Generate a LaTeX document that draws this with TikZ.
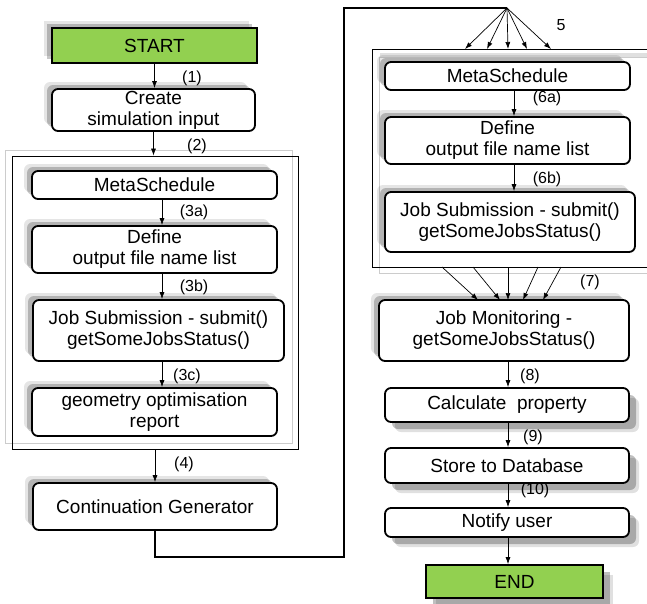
\documentclass[tikz,border=0pt]{standalone}
\usepackage{fontspec}
\setmainfont{Liberation Sans}
\usetikzlibrary{arrows.meta,shadows}
\definecolor{termgreen}{HTML}{92D050}
\begin{document}
\begin{tikzpicture}[x=1pt,y=-1pt,
  box/.style={draw=black, line width=1.8pt, rounded corners=6pt, fill=white,
    inner sep=0pt, align=center, font=\fontsize{19}{21}\selectfont},
  term/.style={draw=black, line width=1.8pt, fill=termgreen,
    inner sep=0pt, align=center, font=\fontsize{19}{21}\selectfont},
  shUL/.style={drop shadow={shadow xshift=-8pt, shadow yshift=7pt, fill=black, opacity=0.10},
               drop shadow={shadow xshift=-5pt, shadow yshift=4pt, fill=black, opacity=0.22}},
  shDR/.style={drop shadow={shadow xshift=10pt, shadow yshift=-10pt, fill=black, opacity=0.12},
               drop shadow={shadow xshift=7pt, shadow yshift=-7pt, fill=black, opacity=0.25}},
  frame/.style={draw=black, line width=0.8pt, inner sep=0pt},
  ghost/.style={draw=black!20, line width=0.8pt},
  arr/.style={-{Latex[length=7pt,width=5pt]}, line width=0.7pt},
  loopline/.style={line width=1.8pt, line join=miter},
  lbl/.style={font=\fontsize{16}{18}\selectfont, inner sep=0pt}
]
\useasboundingbox (0,0) rectangle (647,603);
\clip (0,0) rectangle (647,603);

% light outlines behind the two groups
\draw[ghost] (5,150) rectangle (292,443);
\draw[ghost] (379,57) rectangle (700,273);
\draw[black!12, line width=4pt] (380,55) -- (700,55);

% group frames
\node[frame, minimum width=286pt, minimum height=293pt] (frameL) at (155,302.5) {};
\node[frame, minimum width=328pt, minimum height=218pt] (frameR) at (536,158) {};

% left column
\node[term, shUL, minimum width=205pt, minimum height=35pt] (start) at (154.5,45.5) {START};
\node[box, shUL, minimum width=203pt, minimum height=42pt] (create) at (153.5,110) {Create\\simulation input};
\node[box, shUL, minimum width=245pt, minimum height=28pt] (meta1) at (154.5,185) {MetaSchedule};
\node[box, shUL, minimum width=245pt, minimum height=47pt] (define1) at (154.5,249.5) {Define\\output file name list};
\node[box, shUL, minimum width=251pt, minimum height=61pt] (jobsub1) at (158.5,330.5) {Job Submission - submit()\\getSomeJobsStatus()};
\node[box, shUL, minimum width=245pt, minimum height=48pt] (geom) at (154.5,412) {geometry optimisation\\report};
\node[box, shUL, minimum width=244pt, minimum height=47pt] (contgen) at (155,506.5) {Continuation Generator};

% right column
\node[box, shUL, minimum width=245pt, minimum height=28pt] (meta2) at (507.5,76) {MetaSchedule};
\node[box, shUL, minimum width=245pt, minimum height=47pt] (define2) at (507.5,140.5) {Define\\output file name list};
\node[box, shUL, minimum width=250pt, minimum height=60pt] (jobsub2) at (510,222) {Job Submission - submit()\\getSomeJobsStatus()};
\node[box, shUL, minimum width=250pt, minimum height=61pt] (jobmon) at (504,330.5) {Job Monitoring -\\getSomeJobsStatus()};
\node[box, shDR, minimum width=244pt, minimum height=34pt] (calc) at (507,405) {Calculate\ \ property};
\node[box, shDR, minimum width=244pt, minimum height=35pt] (store) at (507,465.5) {Store to Database};
\node[box, shDR, minimum width=244pt, minimum height=29pt] (notify) at (507,522.5) {Notify user};
\node[term, shDR, minimum width=177pt, minimum height=33pt] (end) at (514.5,581.5) {END};

% helper columns and points
\coordinate (cL) at (162,0);
\coordinate (cR) at (514,0);
\coordinate (cM) at (508,0);
\coordinate (loopA) at (344,557);
\coordinate (hub) at (507,8);
\foreach \i/\x in {1/465,2/487,3/508,4/527,5/551} {\coordinate (f\i) at (\x,49);}
\foreach \i/\x/\y in {1/442/478,2/473/500,3/508/508,4/538/523,5/561/543} {
  \coordinate (s\i) at (\x,267);
  \coordinate (t\i) at (\y,300);
}

% left column connectors
\draw[arr] (start.south) -- (start.south |- create.north);
\draw[arr] (create.south) -- (create.south |- frameL.north);
\draw[arr] (meta1.south -| cL) -- (define1.north -| cL);
\draw[arr] (define1.south -| cL) -- (jobsub1.north -| cL);
\draw[arr] (jobsub1.south -| cL) -- (geom.north -| cL);
\draw[arr] (contgen.north |- frameL.south) -- (contgen.north);

% loop over to the right column
\draw[loopline] (contgen.south) |- (loopA) |- (hub);
\foreach \i in {1,...,5} {\draw[arr] (hub) -- (f\i);}

% right column connectors
\draw[arr] (meta2.south -| cR) -- (define2.north -| cR);
\draw[arr] (define2.south -| cR) -- (jobsub2.north -| cR);
\foreach \i in {1,...,5} {\draw[arr] (s\i) -- (t\i);}
\draw[arr] (jobmon.south -| cM) -- (calc.north -| cM);
\draw[arr] (calc.south -| cM) -- (store.north -| cM);
\draw[arr] (store.south -| cM) -- (notify.north -| cM);
\draw[arr] (notify.south -| cM) -- (end.north -| cM);

% step labels
\node[lbl] (l1) at (192,78) {(1)};
\node[lbl] (l2) at (197,146) {(2)};
\node[lbl] (l3a) at (194,212) {(3a)};
\node[lbl] (l3b) at (194,287) {(3b)};
\node[lbl] (l3c) at (187,376) {(3c)};
\node[lbl] (l4) at (184,464) {(4)};
\node[lbl] (l5) at (561,25) {5};
\node[lbl] (l6a) at (547,98) {(6a)};
\node[lbl] (l6b) at (547,179) {(6b)};
\node[lbl] (l7) at (590,282) {(7)};
\node[lbl] (l8) at (530,376) {(8)};
\node[lbl] (l9) at (533,437) {(9)};
\node[lbl] (l10) at (535,490) {(10)};
\end{tikzpicture}
\end{document}
